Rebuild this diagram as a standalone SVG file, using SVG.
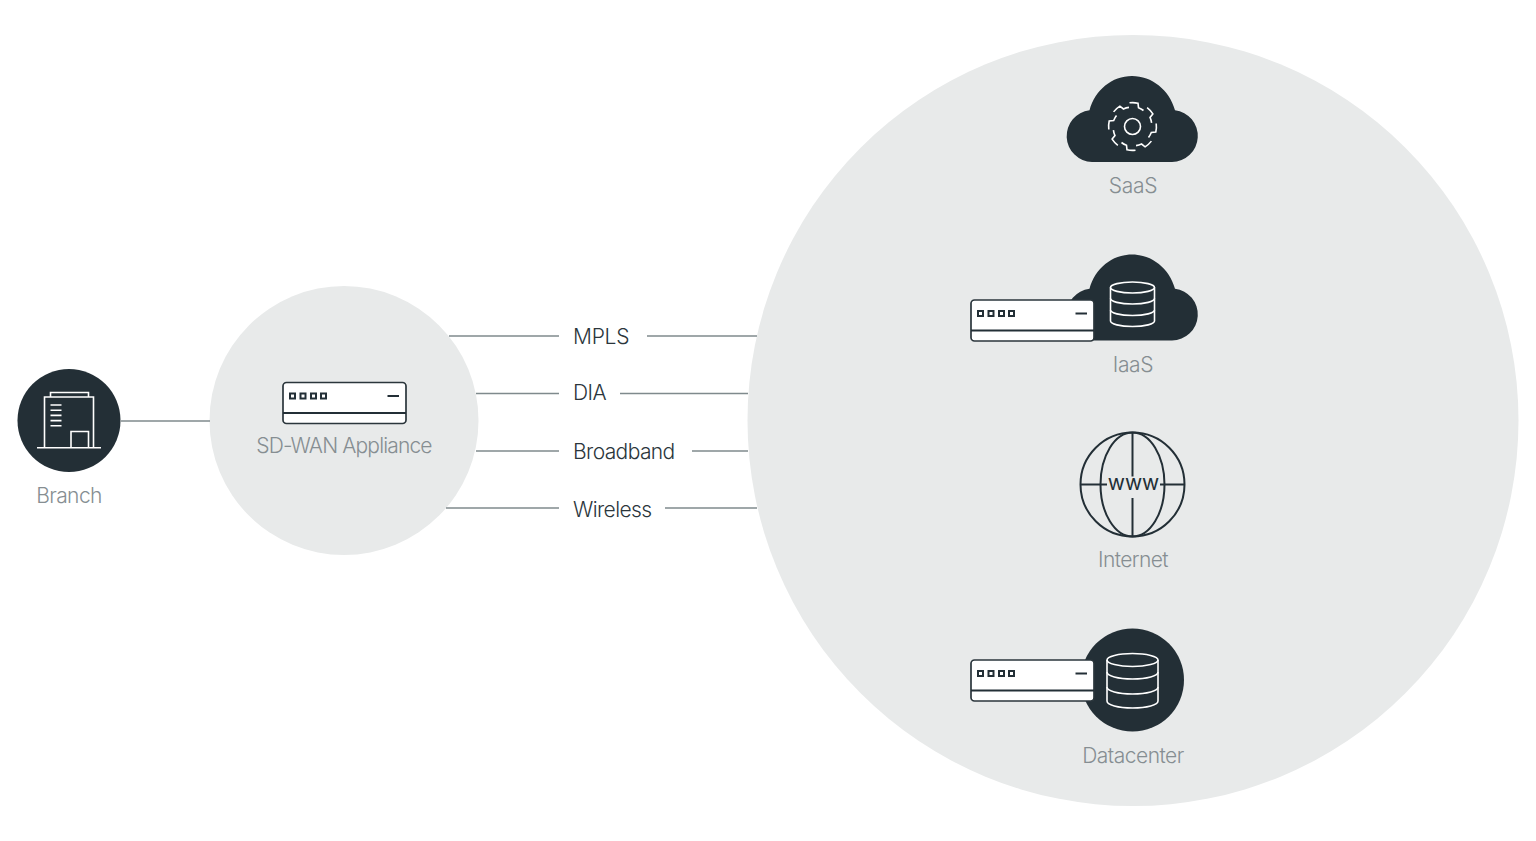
<svg xmlns="http://www.w3.org/2000/svg" xmlns:xlink="http://www.w3.org/1999/xlink" width="1536" height="841" viewBox="0 0 1536 841">
<style>
text{font-family:"Inter","Liberation Sans",sans-serif;font-weight:300;font-size:21px;letter-spacing:-.6px}
.lab{fill:#868e92;text-anchor:middle}
.con{fill:#2b363c}
.bg{fill:#e8eaea}
.dark{fill:#232f36}
.wl{fill:none;stroke:#fff;stroke-width:1.6}
.dl{fill:none;stroke:#232f36;stroke-width:2}
#connectors line{stroke:#7f8a8d;stroke-width:1.4}
</style>
<defs>
<g id="appliance">
<rect x="283" y="382.5" width="123" height="41" rx="3.5" fill="#fff" stroke="#2b363c" stroke-width="1.7"/>
<path class="dl" d="M283 413H406"/>
<path class="dl" d="M387.500 396H399" stroke-width="1.6"/>
<g fill="none" stroke="#232f36" stroke-width="2">
<rect x="290" y="393.500" width="5" height="5"/><rect x="300.500" y="393.500" width="5" height="5"/><rect x="311" y="393.500" width="5" height="5"/><rect x="321" y="393.500" width="5" height="5"/>
</g>
</g>
<path id="cloud" class="dark" d="M1092 162A26 26 0 0 1 1089.500 110.200C1095 90 1112 76 1132 76C1152 76 1169.500 90 1175 110.200A26 26 0 0 1 1172 162Z"/>
<path id="tooth" class="wl" d="M-3 -23.700A24 24 0 0 1 5.500 -23.300L6 -18.800A19.500 19.500 0 0 1 11 -16"/>
</defs>

<circle class="bg" cx="1133" cy="420.500" r="385.500"/>
<circle class="bg" cx="344" cy="420.500" r="134.500"/>

<g id="connectors">
<line x1="121" y1="421" x2="210" y2="421"/>
<line x1="449" y1="336" x2="559" y2="336"/><line x1="647" y1="336" x2="757" y2="336"/>
<line x1="476" y1="393.500" x2="559" y2="393.500"/><line x1="620" y1="393.500" x2="748" y2="393.500"/>
<line x1="476" y1="451" x2="559" y2="451"/><line x1="692" y1="451" x2="748" y2="451"/>
<line x1="446" y1="508" x2="559" y2="508"/><line x1="665" y1="508" x2="757" y2="508"/>
</g>

<g id="branch">
<circle class="dark" cx="69" cy="420.500" r="51.500"/>
<g class="wl">
<path d="M44.500 447.500V397H93.500V447.500"/>
<path d="M50.500 397V392.500H88.500V397"/>
<path d="M37 447.700H101"/>
<path d="M71 447.500V431.500H88.500V447.500"/>
<path d="M50.500 405H61.500M50.500 410.200H61.500M50.500 415.400H61.500M50.500 420.600H61.500M50.500 425.800H61.500"/>
</g>
<text class="lab" x="69" y="503">Branch</text>
</g>

<g id="sdwan">
<use href="#appliance"/>
<text class="lab" x="344" y="453" style="letter-spacing:-.85px">SD-WAN Appliance</text>
</g>

<g id="link-labels">
<text class="con" x="573" y="344" style="letter-spacing:-.25px">MPLS</text>
<text class="con" x="573" y="400">DIA</text>
<text class="con" x="573" y="459">Broadband</text>
<text class="con" x="573" y="517">Wireless</text>
</g>

<g id="saas">
<use href="#cloud"/>
<g transform="translate(1132.500 126.500)">
<circle class="wl" r="8"/>
<use href="#tooth"/><use href="#tooth" transform="rotate(45)"/><use href="#tooth" transform="rotate(90)"/><use href="#tooth" transform="rotate(135)"/><use href="#tooth" transform="rotate(180)"/><use href="#tooth" transform="rotate(225)"/><use href="#tooth" transform="rotate(270)"/><use href="#tooth" transform="rotate(315)"/>
</g>
<text class="lab" x="1133" y="193" style="letter-spacing:-.25px">SaaS</text>
</g>

<g id="iaas">
<use href="#cloud" y="178.500"/>
<g class="wl">
<ellipse cx="1132.500" cy="287.500" rx="22" ry="5.500"/>
<path d="M1110.500 287.500V321C1110.500 324 1120 326.500 1132.500 326.500S1154.500 324 1154.500 321V287.500"/>
<path d="M1110.500 298.500C1110.500 301.500 1120 304 1132.500 304S1154.500 301.500 1154.500 298.500"/>
<path d="M1110.500 310C1110.500 313 1120 315.500 1132.500 315.500S1154.500 313 1154.500 310"/>
</g>
<use href="#appliance" x="688" y="-82.500"/>
<text class="lab" x="1133" y="372" style="letter-spacing:-.3px">IaaS</text>
</g>

<g id="internet">
<g class="dl">
<circle cx="1132.500" cy="484.500" r="52"/>
<ellipse cx="1132.500" cy="484.500" rx="32" ry="52"/>
<path d="M1132.500 432.500V476.500M1132.500 498V536.500M1080.500 484.500H1107M1160 484.500H1184.500"/>
</g>
<text x="1133.500" y="490" text-anchor="middle" fill="#232f36" style="letter-spacing:0;font-size:21px;font-weight:400">www</text>
<text class="lab" x="1133" y="567">Internet</text>
</g>

<g id="datacenter">
<circle class="dark" cx="1132.500" cy="680" r="51.500"/>
<g class="wl">
<ellipse cx="1132.500" cy="660" rx="25.500" ry="6.500"/>
<path d="M1107 660V701C1107 705 1118 708 1132.500 708S1158 705 1158 701V660"/>
<path d="M1107 672C1107 676 1118 679 1132.500 679S1158 676 1158 672"/>
<path d="M1107 687C1107 691 1118 694 1132.500 694S1158 691 1158 687"/>
</g>
<use href="#appliance" x="688" y="277.500"/>
<text class="lab" x="1133" y="763" style="letter-spacing:-.5px">Datacenter</text>
</g>
</svg>
